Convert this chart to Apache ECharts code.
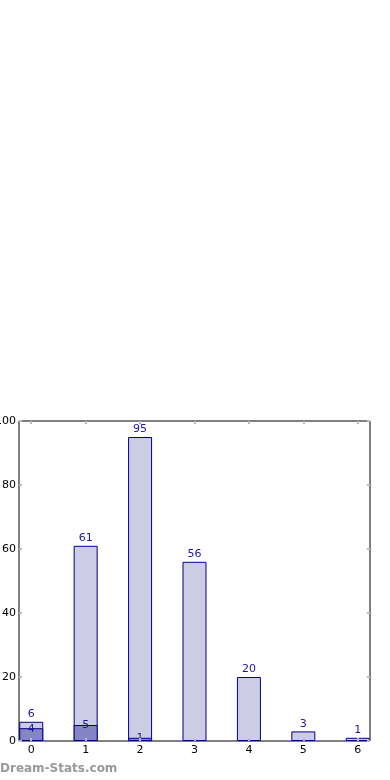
<!DOCTYPE html>
<html>
<head>
<meta charset="utf-8">
<script src="https://cdn.jsdelivr.net/npm/echarts@6/dist/echarts.min.js"></script>
<style>
  html, body { margin: 0; padding: 0; background: #fff; }
  #chart { width: 390px; height: 780px; }
</style>
</head>
<body>
<div id="chart"></div>
<script>
// category positions and counts
const positions = [0, 1, 2, 3, 4, 5, 6];
const totalValues = [6, 61, 95, 56, 20, 3, 1];
const innerPositions = [0, 1, 2];
const innerValues = [4, 5, 1];
const yTicks = [0, 20, 40, 60, 80, 100];

const chart = echarts.init(document.getElementById('chart'));
const font = 'DejaVu Sans';
// small grey ticks pointing into the plot, matplotlib style
const tk = vals => ({ show: true, inside: true, length: 3, lineStyle: { color: '#bbb', width: 2 }, customValues: vals });

const option = {
  animation: false,
  grid: {
    left: 19, right: 20, top: 421, bottom: 39,
    containLabel: false, outerBoundsMode: 'none',
    show: true, borderColor: '#000', borderWidth: 1
  },
  xAxis: [
    {
      type: 'value', min: -0.225, max: 6.225, position: 'bottom', z: 10,
      axisLine: { show: false, onZero: false }, splitLine: { show: false },
      axisTick: tk(positions),
      axisLabel: { color: '#000', fontFamily: font, fontSize: 11, margin: 4, customValues: positions, formatter: v => String(v) }
    },
    {
      type: 'value', min: -0.225, max: 6.225, position: 'top', z: 10,
      axisLine: { show: false, onZero: false }, splitLine: { show: false },
      axisTick: tk(positions),
      axisLabel: { show: true, color: 'rgba(0,0,0,0)', customValues: positions, formatter: v => String(v) }
    }
  ],
  yAxis: [
    {
      type: 'value', min: 0, max: 100, position: 'left', z: 10,
      axisLine: { show: false, onZero: false }, splitLine: { show: false },
      axisTick: tk(yTicks),
      axisLabel: { color: '#000', fontFamily: font, fontSize: 11, margin: 3, customValues: yTicks }
    },
    {
      type: 'value', min: 0, max: 100, position: 'right', z: 10,
      axisLine: { show: false, onZero: false }, splitLine: { show: false },
      axisTick: tk(yTicks),
      axisLabel: { show: true, color: 'rgba(0,0,0,0)', customValues: yTicks }
    }
  ],
  series: [
    {
      type: 'bar',
      data: positions.map((p, i) => [p, totalValues[i]]),
      barWidth: 24, barGap: '-100%',
      itemStyle: { color: '#ccccE4', borderColor: '#000088', borderWidth: 1 },
      label: { show: true, position: 'top', distance: 2, color: '#1a1a9a', fontFamily: font, fontSize: 11, formatter: p => p.value[1] }
    },
    {
      type: 'bar',
      data: innerPositions.map((p, i) => [p, innerValues[i]]),
      barWidth: 24, barGap: '-100%',
      itemStyle: { color: '#8585c6', borderColor: '#000088', borderWidth: 1 },
      label: { show: true, position: 'top', offset: [0, 11], color: '#1a1a9a', fontFamily: font, fontSize: 11, formatter: p => p.value[1] }
    },
    {
      type: 'scatter', xAxisIndex: 1, yAxisIndex: 1, data: [], silent: true
    }
  ],
  graphic: [
    { type: 'text', left: 0, top: 763, style: { text: 'Dream-Stats.com', fill: '#999', font: 'bold 12px "DejaVu Sans"' } }
  ]
};

chart.setOption(option);
</script>
</body>
</html>
